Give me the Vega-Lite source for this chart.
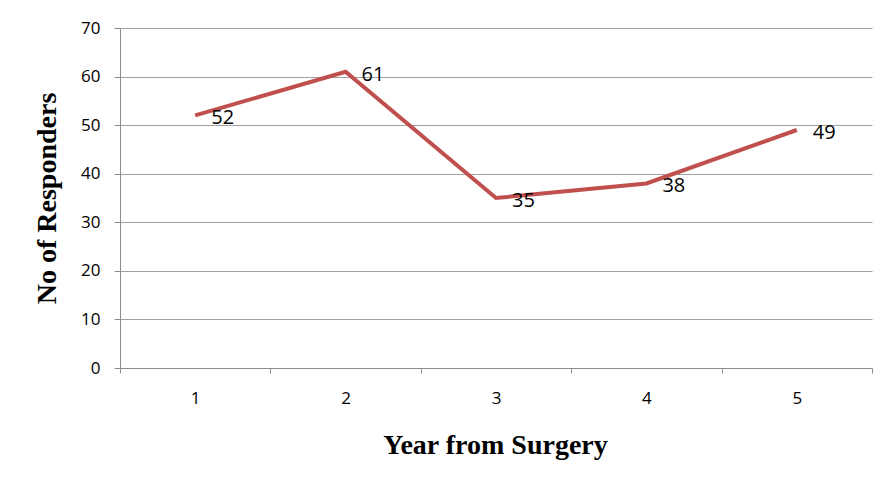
{
  "$schema": "https://vega.github.io/schema/vega-lite/v6.json",
  "width": 752,
  "height": 340,
  "autosize": {"type": "none"},
  "padding": {"left": 120, "top": 28, "right": 11, "bottom": 114},
  "background": "white",
  "config": {"view": {"stroke": null}},
  "data": {"values": [
    {"year": "1", "n": 52},
    {"year": "2", "n": 61},
    {"year": "3", "n": 35},
    {"year": "4", "n": 38},
    {"year": "5", "n": 49}
  ]},
  "encoding": {
    "x": {
      "field": "year", "type": "ordinal", "bandPosition": 0.5,
      "scale": {"type": "band", "paddingInner": 0, "paddingOuter": 0},
      "axis": {
        "title": "Year from Surgery", "tickBand": "extent", "labelAngle": 0,
        "domainColor": "#8c8c8c", "tickColor": "#8c8c8c", "tickSize": 5,
        "labelFont": "Open Sans", "labelFontSize": 17, "labelColor": "#000000", "labelPadding": 17,
        "titleFont": "Liberation Serif", "titleFontSize": 28, "titleFontWeight": "bold", "titleColor": "#000000",
        "titleX": 375, "titleY": 77, "titleBaseline": "middle", "titleAlign": "center"
      }
    },
    "y": {
      "field": "n", "type": "quantitative",
      "scale": {"domain": [0, 70], "nice": false},
      "axis": {
        "title": "No of Responders", "values": [0, 10, 20, 30, 40, 50, 60, 70],
        "grid": true, "gridColor": "#a0a0a0", "gridWidth": 1,
        "domainColor": "#8c8c8c", "tickColor": "#8c8c8c", "tickSize": 6,
        "labelFont": "Open Sans", "labelFontSize": 17, "labelColor": "#000000", "labelPadding": 14,
        "titleFont": "Liberation Serif", "titleFontSize": 28, "titleFontWeight": "bold", "titleColor": "#000000",
        "titleX": -73, "titleY": 170, "titleBaseline": "middle", "titleAlign": "center", "titleAngle": -90
      }
    }
  },
  "layer": [
    {"mark": {"type": "line", "color": "#c0504d", "strokeWidth": 4, "strokeJoin": "miter"}},
    {
      "mark": {"type": "text", "align": "left", "baseline": "middle", "dx": 16, "dy": 3, "font": "Open Sans", "fontSize": 20, "color": "#000000"},
      "encoding": {"text": {"field": "n", "type": "quantitative"}}
    }
  ]
}
